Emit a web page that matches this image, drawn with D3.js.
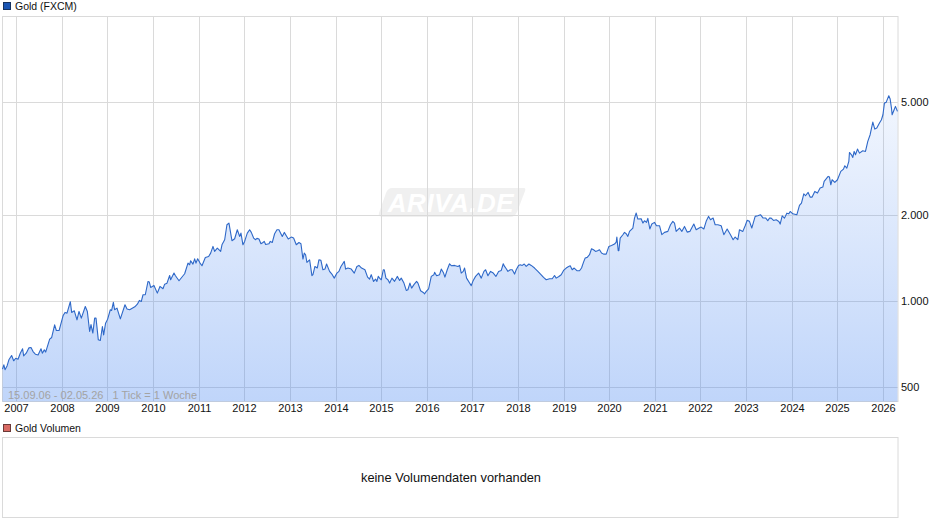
<!DOCTYPE html>
<html>
<head>
<meta charset="utf-8">
<title>Gold (FXCM)</title>
<script src="https://cdnjs.cloudflare.com/ajax/libs/d3/7.8.5/d3.min.js"></script>
<style>
  html, body { margin: 0; padding: 0; background: #fff; }
  svg { display: block; font-family: "Liberation Sans", Arial, sans-serif; }
  .grid line { stroke: #dadada; stroke-width: 1; shape-rendering: crispEdges; }
  .grid path { display: none; }
  .axisText { font-size: 11px; fill: #111; }
  .legendText { font-size: 10.5px; fill: #111; }
</style>
</head>
<body>
<div id="chart"></div>
<script>
// Weekly closes: decimal year and price
var years = [
  2006.70,2006.73,2006.755,2006.80,2006.84,2006.90,2006.945,2006.99,2007.04,2007.09,2007.14,2007.164,2007.22,2007.28,2007.325,2007.37,2007.42,2007.48,2007.544,2007.573,2007.617,2007.646,2007.734,2007.778,2007.843,2007.88,2007.94,
  2008.03,2008.07,2008.114,2008.187,2008.216,2008.274,2008.333,2008.377,2008.428,2008.515,2008.56,2008.61,2008.64,2008.68,2008.72,2008.75,2008.80,2008.844,2008.89,2008.917,2008.96,
  2009.005,2009.063,2009.092,2009.13,2009.158,2009.21,2009.283,2009.385,2009.43,2009.487,2009.60,2009.656,2009.70,2009.743,2009.78,2009.83,2009.89,2009.918,2009.948,
  2010.02,2010.094,2010.152,2010.218,2010.255,2010.306,2010.364,2010.386,2010.459,2010.488,2010.569,2010.693,2010.766,2010.802,2010.824,2010.875,2010.912,2010.941,2010.978,
  2011.03,2011.073,2011.146,2011.219,2011.263,2011.314,2011.35,2011.409,2011.482,2011.511,2011.57,2011.62,2011.664,2011.73,2011.789,2011.847,2011.898,2011.927,2011.971,
  2012.008,2012.066,2012.117,2012.154,2012.205,2012.249,2012.278,2012.322,2012.365,2012.409,2012.438,2012.468,2012.541,2012.57,2012.614,2012.665,2012.716,2012.76,2012.789,2012.833,2012.877,2012.921,2012.964,
  2013.03,2013.081,2013.14,2013.198,2013.242,2013.286,2013.315,2013.344,2013.373,2013.432,2013.483,2013.505,2013.549,2013.6,2013.636,2013.68,2013.724,2013.768,2013.804,2013.87,2013.929,2013.973,
  2014.031,2014.075,2014.119,2014.192,2014.221,2014.272,2014.345,2014.411,2014.469,2014.513,2014.571,2014.645,2014.703,2014.747,2014.783,2014.834,2014.878,2014.907,2014.937,2014.966,
  2015.003,2015.047,2015.069,2015.105,2015.149,2015.186,2015.237,2015.295,2015.354,2015.405,2015.441,2015.5,2015.551,2015.587,2015.631,2015.668,2015.719,2015.777,2015.807,2015.865,2015.923,2015.953,2015.989,
  2016.04,2016.099,2016.157,2016.172,2016.216,2016.281,2016.318,2016.369,2016.398,2016.449,2016.5,2016.537,2016.61,2016.683,2016.72,2016.756,2016.8,2016.829,2016.873,2016.939,2016.975,
  2017.019,2017.07,2017.136,2017.195,2017.253,2017.29,2017.341,2017.399,2017.458,2017.516,2017.575,2017.633,2017.677,2017.706,2017.742,2017.779,2017.83,2017.874,2017.925,2017.961,
  2018.012,2018.049,2018.093,2018.137,2018.18,2018.239,2018.29,2018.363,2018.436,2018.509,2018.56,2018.619,2018.692,2018.75,2018.801,2018.838,2018.896,2018.947,2018.999,
  2019.057,2019.101,2019.145,2019.188,2019.232,2019.291,2019.349,2019.393,2019.437,2019.473,2019.517,2019.568,2019.612,2019.656,2019.7,2019.744,2019.787,2019.831,2019.875,2019.934,2019.992,
  2020.05,2020.116,2020.153,2020.167,2020.197,2020.211,2020.24,2020.299,2020.335,2020.372,2020.408,2020.445,2020.518,2020.554,2020.591,2020.627,2020.70,2020.737,2020.773,2020.817,2020.846,2020.89,2020.934,2020.992,
  2021.036,2021.102,2021.153,2021.212,2021.285,2021.343,2021.394,2021.431,2021.467,2021.54,2021.591,2021.65,2021.708,2021.767,2021.854,2021.906,2021.971,
  2022.015,2022.074,2022.125,2022.176,2022.22,2022.278,2022.322,2022.381,2022.454,2022.512,2022.585,2022.658,2022.716,2022.76,2022.819,2022.855,2022.928,2022.98,
  2023.023,2023.074,2023.125,2023.199,2023.257,2023.315,2023.374,2023.432,2023.476,2023.513,2023.55,2023.601,2023.659,2023.718,2023.747,2023.791,2023.842,2023.893,2023.937,2023.966,
  2024.024,2024.112,2024.17,2024.214,2024.265,2024.302,2024.36,2024.404,2024.448,2024.506,2024.565,2024.623,2024.682,2024.711,2024.799,2024.828,2024.857,2024.886,2024.945,
  2025.003,2025.076,2025.135,2025.164,2025.208,2025.252,2025.266,2025.31,2025.339,2025.369,2025.398,2025.442,2025.485,2025.558,2025.617,2025.668,2025.719,2025.778,2025.821,2025.865,2025.924,2025.967,
  2026.0,2026.033,2026.07,2026.128,2026.158,2026.187,2026.201,2026.245,2026.274,2026.318
];
var closes = [
  579,599,576,594,624,646,619,632,627,658,682,644,658,687,689,667,653,649,682,658,676,664,737,747,827,790,790,
  892,914,909,996,914,926,861,921,873,959,921,784,829,774,873,873,733,729,816,763,838,
  866,934,929,991,934,946,868,972,939,934,956,977,1007,999,1054,1054,1173,1167,1118,
  1136,1068,1127,1106,1148,1157,1231,1189,1255,1231,1180,1248,1360,1342,1386,1349,1408,1360,1408,
  1360,1331,1423,1435,1474,1556,1494,1535,1494,1576,1642,1852,1878,1629,1655,1779,1686,1732,1576,
  1620,1732,1780,1742,1664,1642,1660,1651,1590,1606,1620,1581,1590,1620,1606,1723,1780,1780,1742,1686,1742,1696,1651,
  1677,1664,1577,1606,1590,1405,1474,1455,1367,1397,1229,1239,1324,1307,1397,1390,1289,1296,1350,1272,1239,1205,
  1255,1272,1324,1379,1296,1307,1296,1255,1324,1335,1307,1289,1215,1196,1239,1173,1196,1173,1222,1205,
  1189,1289,1289,1205,1189,1158,1205,1174,1222,1183,1205,1158,1091,1097,1158,1112,1143,1174,1158,1088,1074,1062,1083,
  1104,1222,1239,1262,1229,1239,1296,1255,1215,1289,1353,1332,1335,1324,1335,1255,1272,1307,1205,1158,1134,
  1183,1222,1255,1205,1272,1289,1229,1272,1255,1222,1272,1282,1353,1324,1300,1272,1289,1289,1245,1289,
  1335,1342,1335,1350,1324,1350,1335,1307,1272,1238,1212,1189,1199,1199,1231,1205,1221,1238,1282,
  1307,1321,1331,1289,1307,1279,1279,1307,1371,1417,1424,1455,1527,1515,1494,1503,1515,1475,1462,1462,1556,
  1568,1586,1611,1678,1503,1503,1664,1709,1742,1723,1687,1756,1804,1955,2036,1940,1945,1878,1913,1888,1950,1790,1864,1888,
  1838,1838,1710,1742,1756,1853,1904,1878,1756,1804,1756,1828,1746,1756,1864,1780,1804,
  1818,1790,1904,1982,1929,1955,1853,1853,1838,1710,1790,1710,1642,1678,1642,1780,1756,1838,
  1919,1904,1804,1982,1993,2009,1955,1955,1913,1954,1954,1918,1928,1902,1862,1991,1954,2034,2023,2062,
  2023,2007,2164,2205,2378,2340,2404,2315,2315,2423,2391,2489,2509,2626,2735,2720,2556,2662,2605,
  2662,2847,2901,2980,2924,3085,3317,3255,3187,3345,3255,3409,3299,3363,3345,3625,3826,4238,4005,4037,4203,4317,
  4495,4939,4966,5239,5100,4744,4495,4680,4807,4617
];
var tickYears = [2007,2008,2009,2010,2011,2012,2013,2014,2015,2016,2017,2018,2019,2020,2021,2022,2023,2024,2025,2026];
var priceTicks = [500,1000,2000,5000];

var svgWidth = 940;
var svgHeight = 526;

var plot = { left: 2.5, right: 898, top: 16.5, bottom: 401.5 };

var svg = d3.select("#chart")
  .append("svg")
  .attr("width", svgWidth)
  .attr("height", svgHeight);

var xScale = d3.scaleLinear()
  .domain([2006.70, 2026.33])
  .range([plot.left, plot.right]);

var yScale = d3.scaleLog()
  .domain([447, 10000])
  .range([401.2, 15.5]);

var chartData = years.map(function(year, i) {
  return { year: year, close: closes[i] };
});

// Fill fades out towards the top, grid shows through it
var defs = svg.append("defs");
var fade = defs.append("linearGradient")
  .attr("id", "areaFade")
  .attr("gradientUnits", "userSpaceOnUse")
  .attr("x1", 0).attr("x2", 0)
  .attr("y1", plot.top).attr("y2", plot.bottom);
fade.append("stop").attr("offset", "0").attr("stop-color", "#3f80f0").attr("stop-opacity", 0);
fade.append("stop").attr("offset", "1").attr("stop-color", "#3f80f0").attr("stop-opacity", 0.33);

// Watermark
var mark = svg.append("g").attr("transform", "translate(378,187)");
mark.append("path")
  .attr("d", "M14,1 L146,1 Q148,1 147,4 L139,25 Q137,30 132,30 L5,30 Q0,30 1,26 L8,6 Q10,1 14,1 Z")
  .attr("fill", "#f0f0f0");
mark.append("text")
  .attr("x", 73)
  .attr("y", 25)
  .attr("text-anchor", "middle")
  .style("font-size", "26px")
  .style("font-weight", "bold")
  .style("font-style", "italic")
  .style("letter-spacing", "0.5px")
  .style("fill", "#ffffff")
  .text("ARIVA.DE");

// Snap the grid to whole pixels
function snapTicks(g, vertical) {
  g.selectAll(".tick").attr("transform", function(d) {
    var pos = Math.round(vertical ? xScale(d) : yScale(d)) + 0.5;
    return vertical ? "translate(" + pos + ",0)" : "translate(0," + pos + ")";
  });
}

// Grid and axes
var xAxis = d3.axisBottom(xScale)
  .tickValues(tickYears)
  .tickFormat(d3.format("d"))
  .tickSize(plot.bottom - plot.top)
  .tickPadding(3);

var xGroup = svg.append("g")
  .attr("class", "grid")
  .attr("transform", "translate(0," + plot.top + ")")
  .call(xAxis);
xGroup.call(snapTicks, true);
xGroup.selectAll("text").attr("class", "axisText");

var priceFormat = d3.formatLocale({ decimal: ",", thousands: ".", grouping: [3], currency: ["", " €"] }).format(",d");

var yAxis = d3.axisRight(yScale)
  .tickValues(priceTicks)
  .tickFormat(priceFormat)
  .tickSize(plot.right - plot.left)
  .tickPadding(3);

var yGroup = svg.append("g")
  .attr("class", "grid")
  .attr("transform", "translate(" + plot.left + ",0)")
  .call(yAxis);
yGroup.call(snapTicks, false);
yGroup.selectAll("text").attr("class", "axisText");

// Frame of the price panel
svg.append("rect")
  .attr("x", plot.left)
  .attr("y", plot.top)
  .attr("width", plot.right - plot.left)
  .attr("height", plot.bottom - plot.top)
  .attr("fill", "none")
  .attr("stroke", "#dadada");

// Area and line
var areaPath = d3.area()
  .x(d => xScale(d.year))
  .y0(plot.bottom)
  .y1(d => yScale(d.close));

var linePath = d3.line()
  .x(d => xScale(d.year))
  .y(d => yScale(d.close));

svg.append("path")
  .datum(chartData)
  .attr("d", areaPath)
  .attr("fill", "url(#areaFade)");

svg.append("path")
  .datum(chartData)
  .attr("d", linePath)
  .attr("fill", "none")
  .attr("stroke", "#2e68c8")
  .attr("stroke-width", 1.1)
  .attr("stroke-linejoin", "round");

// Period note inside the plot
svg.append("text")
  .attr("x", 8)
  .attr("y", 399)
  .style("font-size", "11px")
  .style("fill", "#a3a3a3")
  .style("white-space", "pre")
  .text("15.09.06 - 02.05.26   1 Tick = 1 Woche");

// Legends
function legend(y, color, border, label) {
  svg.append("rect")
    .attr("x", 3.5)
    .attr("y", y + 0.5)
    .attr("width", 7)
    .attr("height", 7)
    .attr("fill", color)
    .attr("stroke", border);
  svg.append("text")
    .attr("class", "legendText")
    .attr("x", 15)
    .attr("y", y + 8)
    .text(label);
}
legend(2, "#1a56b4", "#17335f", "Gold (FXCM)");
legend(424, "#d96a64", "#6b3a38", "Gold Volumen");

// Empty volume panel
svg.append("rect")
  .attr("x", plot.left)
  .attr("y", 437.5)
  .attr("width", plot.right - plot.left)
  .attr("height", 80)
  .attr("fill", "none")
  .attr("stroke", "#dadada");

svg.append("text")
  .attr("x", 451)
  .attr("y", 482)
  .attr("text-anchor", "middle")
  .style("font-size", "12.8px")
  .style("fill", "#111")
  .text("keine Volumendaten vorhanden");
</script>
</body>
</html>
